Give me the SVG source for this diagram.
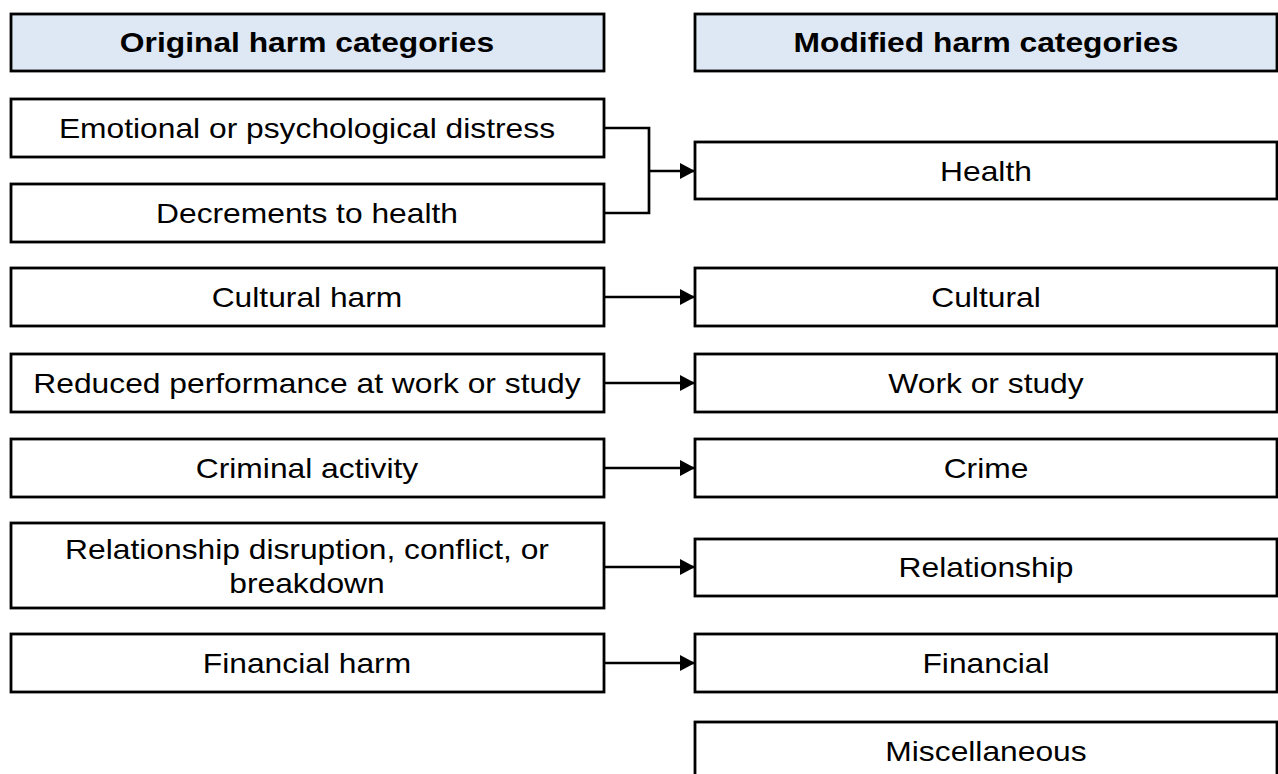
<svg xmlns="http://www.w3.org/2000/svg" width="1278" height="774" viewBox="0 0 1278 774">
  <defs>
    <marker id="arrow" markerWidth="15" markerHeight="16" refX="15" refY="8" orient="auto" markerUnits="userSpaceOnUse">
      <path d="M0,0 L15,8 L0,16 Z" fill="#000"/>
    </marker>
    <style>
      .box { fill: #ffffff; stroke: #000; stroke-width: 2.8; }
      .hdr { fill: #dee8f4; stroke: #000; stroke-width: 2.8; }
      .lbl, .hlbl { font-family: "Liberation Sans", Arial, sans-serif; font-size: 28px; fill: #000; text-anchor: middle; dominant-baseline: central;
                    transform-box: fill-box; transform-origin: center; transform: scaleX(1.135); }
      .hlbl { font-weight: bold; }
      .conn { fill: none; stroke: #000; stroke-width: 2.7; }
    </style>
  </defs>
  <rect width="1278" height="774" fill="#fff"/>

  <!-- column headers -->
  <g id="hdr-original">
    <rect class="hdr" x="11" y="14" width="593" height="57"/>
    <text class="hlbl" x="307" y="42">Original harm categories</text>
  </g>
  <g id="hdr-modified">
    <rect class="hdr" x="695" y="14" width="582" height="57"/>
    <text class="hlbl" x="986" y="42">Modified harm categories</text>
  </g>

  <!-- original categories -->
  <g id="orig-emotional">
    <rect class="box" x="11" y="99" width="593" height="58"/>
    <text class="lbl" x="307" y="128">Emotional or psychological distress</text>
  </g>
  <g id="orig-health">
    <rect class="box" x="11" y="184" width="593" height="58"/>
    <text class="lbl" x="307" y="213">Decrements to health</text>
  </g>
  <g id="orig-cultural">
    <rect class="box" x="11" y="268" width="593" height="58"/>
    <text class="lbl" x="307" y="297">Cultural harm</text>
  </g>
  <g id="orig-work">
    <rect class="box" x="11" y="354" width="593" height="58"/>
    <text class="lbl" x="307" y="383">Reduced performance at work or study</text>
  </g>
  <g id="orig-criminal">
    <rect class="box" x="11" y="439" width="593" height="58"/>
    <text class="lbl" x="307" y="468">Criminal activity</text>
  </g>
  <g id="orig-relationship">
    <rect class="box" x="11" y="523" width="593" height="85"/>
    <text class="lbl" x="307" y="549">Relationship disruption, conflict, or</text>
    <text class="lbl" x="307" y="583">breakdown</text>
  </g>
  <g id="orig-financial">
    <rect class="box" x="11" y="634" width="593" height="58"/>
    <text class="lbl" x="307" y="663">Financial harm</text>
  </g>

  <!-- modified categories -->
  <g id="mod-health">
    <rect class="box" x="695" y="142" width="582" height="57"/>
    <text class="lbl" x="986" y="171">Health</text>
  </g>
  <g id="mod-cultural">
    <rect class="box" x="695" y="268" width="582" height="58"/>
    <text class="lbl" x="986" y="297">Cultural</text>
  </g>
  <g id="mod-work">
    <rect class="box" x="695" y="354" width="582" height="58"/>
    <text class="lbl" x="986" y="383">Work or study</text>
  </g>
  <g id="mod-crime">
    <rect class="box" x="695" y="439" width="582" height="58"/>
    <text class="lbl" x="986" y="468">Crime</text>
  </g>
  <g id="mod-relationship">
    <rect class="box" x="695" y="539" width="582" height="57"/>
    <text class="lbl" x="986" y="567">Relationship</text>
  </g>
  <g id="mod-financial">
    <rect class="box" x="695" y="634" width="582" height="58"/>
    <text class="lbl" x="986" y="663">Financial</text>
  </g>
  <g id="mod-misc">
    <rect class="box" x="695" y="722" width="582" height="70"/>
    <text class="lbl" x="986" y="751">Miscellaneous</text>
  </g>

  <!-- connectors -->
  <g id="connectors">
    <path class="conn" d="M604,128 H649 V213 H604"/>
    <path class="conn" d="M649,171 H695" marker-end="url(#arrow)"/>
    <path class="conn" d="M604,297 H695" marker-end="url(#arrow)"/>
    <path class="conn" d="M604,383 H695" marker-end="url(#arrow)"/>
    <path class="conn" d="M604,468 H695" marker-end="url(#arrow)"/>
    <path class="conn" d="M604,567 H695" marker-end="url(#arrow)"/>
    <path class="conn" d="M604,663 H695" marker-end="url(#arrow)"/>
  </g>
</svg>
